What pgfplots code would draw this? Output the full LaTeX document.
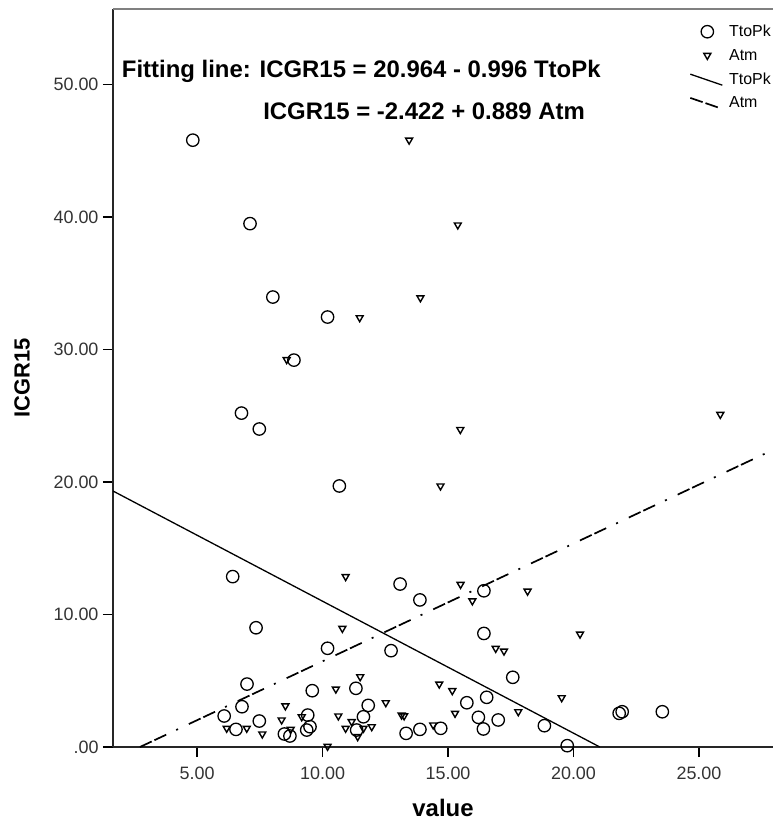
\documentclass[border=0pt]{standalone}
\usepackage{fontspec}
\setmainfont{Liberation Sans}
\usepackage{pgfplots}
\pgfplotsset{compat=1.18}
\pgfplotsset{
  marklegend/.style={legend image code/.code={\draw[##1, mark repeat=2, mark phase=2] plot coordinates {(0bp,0bp) (17bp,0bp) (34bp,0bp)};}},
  linelegend/.style={legend image code/.code={\draw[##1] (0bp,5bp) -- (32bp,-6bp);}},
}
\begin{document}
\begin{tikzpicture}
\begin{axis}[
  scale only axis, width=660bp, height=738bp,
  xmin=1.65, xmax=27.95, ymin=0, ymax=55.7,
  axis lines*=left,
  axis line style={line width=1.6bp, black!85},
  tick align=outside, major tick length=10bp,
  tick style={line width=1.3bp, black},
  xtick={5,10,15,20,25}, xticklabels={5.00,10.00,15.00,20.00,25.00},
  ytick={0,10,20,30,40,50}, yticklabels={.00,10.00,20.00,30.00,40.00,50.00},
  ticklabel style={font=\fontsize{18}{18}\selectfont, text=black!80},
  xticklabel style={yshift=-6bp},
  yticklabel style={xshift=-1bp},
  xlabel={value}, ylabel={ICGR15},
  every axis x label/.style={at={(rel axis cs:0.5,0)}, yshift=-69bp, anchor=base,
     font=\bfseries\fontsize{24}{24}\selectfont},
  every axis y label/.style={at={(rel axis cs:0,0.5)}, xshift=-91bp, anchor=center, rotate=90,
     font=\bfseries\fontsize{22}{22}\selectfont},
  legend style={at={(1,1)}, anchor=north east, yshift=-14bp, draw=none, fill=none,
    font=\fontsize{16}{16}\selectfont, row sep=7bp, inner sep=0pt,
    /tikz/every odd column/.style={column sep=4bp}},
  legend cell align=left,
]
\draw[black!50, line width=3bp] (rel axis cs:0,1) -- (rel axis cs:1,1);
\coordinate (bl) at (rel axis cs:0,0);
\coordinate (tr) at (rel axis cs:1,1);

\addplot[only marks, mark=o, mark size=6.2bp, mark options={line width=1.3bp, black}, marklegend]
coordinates {
(4.83,45.8) (7.11,39.5) (8.02,33.96) (10.2,32.45) (8.86,29.2) (6.77,25.2) (7.48,24.0)
(10.67,19.7) (6.42,12.86) (13.09,12.3) (13.88,11.1) (16.43,11.79) (7.35,9.0) (16.43,8.57)
(10.2,7.45) (12.73,7.27) (17.58,5.26) (6.99,4.75) (11.33,4.43) (9.59,4.25) (16.54,3.75)
(15.75,3.34) (6.79,3.04) (11.82,3.14) (11.63,2.28) (6.08,2.34) (7.48,1.96) (9.41,2.41)
(9.5,1.53) (9.37,1.28) (16.21,2.24) (17.0,2.04) (6.55,1.33) (8.48,0.98) (8.7,0.83)
(11.36,1.28) (13.33,1.03) (13.88,1.33) (14.71,1.41) (16.41,1.36) (18.84,1.61) (19.75,0.1)
(21.82,2.54) (21.94,2.66) (23.54,2.66)
};
\addlegendentry{TtoPk}

\addplot[only marks, mark=triangle, mark size=4bp, mark options={rotate=180, line width=1.4bp, black}, marklegend]
coordinates {
(13.45,45.8) (15.39,39.4) (13.9,33.9) (11.48,32.4) (8.57,29.24) (15.49,23.96) (25.85,25.1)
(14.7,19.7) (10.92,12.86) (15.5,12.27) (15.97,11.03) (18.17,11.76) (10.79,8.95) (20.26,8.52)
(16.9,7.44) (17.23,7.24) (11.5,5.3) (10.53,4.37) (14.65,4.75) (15.17,4.25) (19.53,3.72)
(8.52,3.1) (12.52,3.34) (8.37,2.04) (9.17,2.28) (10.63,2.34) (11.16,1.91) (13.15,2.41)
(13.25,2.35) (15.28,2.54) (17.8,2.66) (6.18,1.41) (6.98,1.41) (7.6,0.98) (8.73,1.33)
(10.92,1.41) (11.63,1.41) (11.4,0.78) (11.96,1.53) (14.41,1.66) (10.2,0.05)
};
\addlegendentry{Atm}

\addplot[black, line width=1.3bp, linelegend]
coordinates {(1.65,19.321) (21.048,0)};
\addlegendentry{TtoPk}

\addplot[black, line width=1.7bp, dash pattern=on 13bp off 3bp on 13bp off 11bp on 2bp off 12bp, linelegend]
coordinates {(2.724,0) (27.95,22.426)};
\addlegendentry{Atm}

\node[anchor=base west, font=\bfseries\fontsize{24}{24}\selectfont, inner sep=0pt] at (axis cs:2.0,50.5) {Fitting line: ICGR15 = 20.964 - 0.996 TtoPk};
\node[anchor=base west, font=\bfseries\fontsize{24}{24}\selectfont, inner sep=0pt] at (axis cs:7.63,47.35) {ICGR15 = -2.422 + 0.889 Atm};
\end{axis}
\pgfresetboundingbox
\useasboundingbox ([xshift=-113bp,yshift=-75bp]bl) rectangle ([yshift=9bp]tr);
\end{tikzpicture}
\end{document}
